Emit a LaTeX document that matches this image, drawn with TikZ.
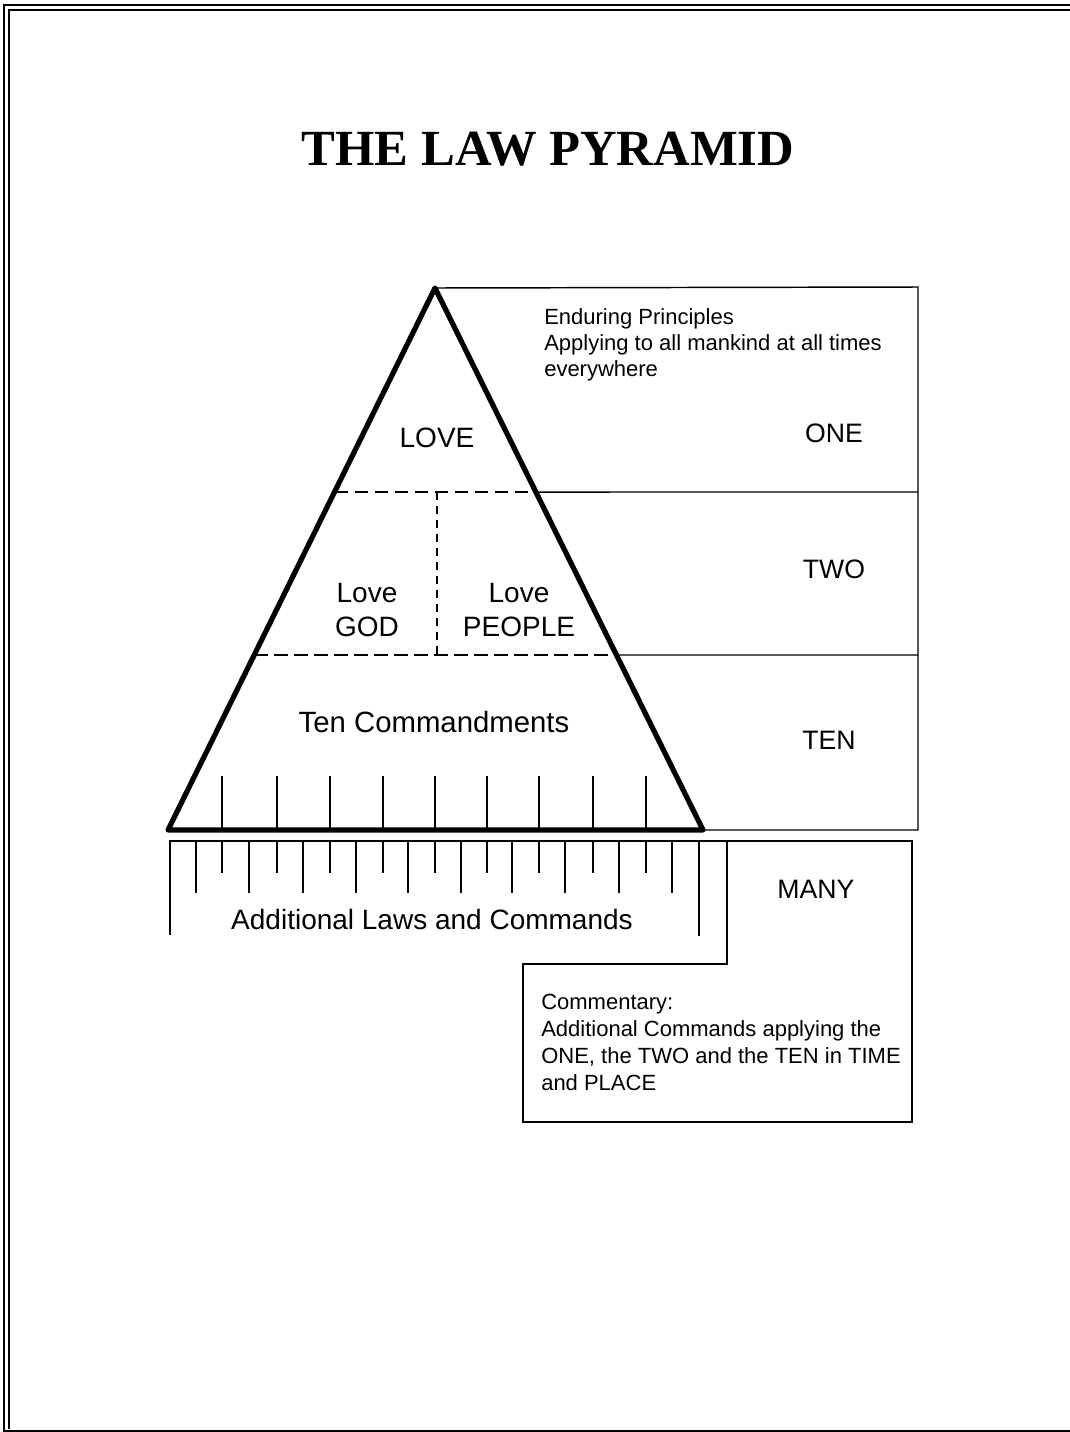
\documentclass[tikz,border=0pt]{standalone}
\usepackage{fontspec}
\setmainfont{Liberation Serif}
\newfontfamily\lawsans{Liberation Sans}
\usetikzlibrary{calc}

\begin{document}
\begin{tikzpicture}[x=0.75pt,y=-0.75pt,
    boxline/.style={draw,line width=1.1pt},
    wall/.style={draw,line width=3.9pt,line join=round,line cap=round},
    divider/.style={draw,line width=1.1pt,dash pattern=on 10pt off 5pt},
    rulertick/.style={draw,line width=1.1pt},
    biglbl/.style={font=\lawsans\fontsize{21}{25.5}\selectfont,align=center,inner sep=0pt},
    levellbl/.style={font=\lawsans\fontsize{20}{24}\selectfont,inner sep=0pt,anchor=base},
    notelbl/.style={font=\lawsans\fontsize{16.5}{19.5}\selectfont,align=left,inner sep=0pt,anchor=north west}]
    \useasboundingbox (0,0) rectangle (1070,1432);

    % frame
    \draw[line width=1.5pt] (1072,5) -- (4,5) -- (4,1431) -- (1072,1431);
    \draw[line width=1.2pt] (1072,10) -- (9,10) -- (9,1429);

    \node[font=\fontsize{38}{41}\selectfont\bfseries,anchor=base,inner sep=0pt] (title) at (548,165) {THE LAW PYRAMID};

    \coordinate (apex) at (435,288);
    \coordinate (baseL) at (168,830);
    \coordinate (baseR) at (703,830);
    \coordinate (oneL) at ($(apex)!0.3764!(baseL)$);
    \coordinate (oneR) at ($(apex)!0.3764!(baseR)$);
    \coordinate (twoL) at ($(apex)!0.6771!(baseL)$);
    \coordinate (twoR) at ($(apex)!0.6771!(baseR)$);
    \coordinate (midT) at (437,492);
    \coordinate (midB) at (437,655);
    \coordinate (boxTR) at (918,287);
    \coordinate (boxBR) at (918,830);

    % level boxes
    \draw[boxline] (apex) -- (boxTR) -- (boxBR) -- (baseR);
    \draw[boxline] (oneR) -- (918,492);
    \draw[boxline] (twoR) -- (918,655);

    % dashed divisions
    \draw[divider] (oneL) -- (oneR);
    \draw[divider] (twoL) -- (twoR);
    \draw[boxline,dash pattern=on 6pt off 4.5pt] (midT) -- (midB);

    % ticks inside the pyramid
    \foreach \x in {222,277,330,383,435,487,539,593,646}
    {
      \draw[rulertick] (\x,776) -- (\x,830);
    }

    \draw[wall] (apex) -- (baseR) -- (baseL) -- cycle;

    % lower ruler and commentary box
    \draw[boxline] (170,935) -- (170,841) -- (912,841) -- (912,1122) -- (523,1122) -- (523,964) -- (727,964) -- (727,841);
    \draw[boxline] (699,841) -- (699,936);
    \foreach \x in {222,277,330,383,435,487,539,593,646}
    {
      \draw[rulertick] (\x,841) -- (\x,873);
    }
    \foreach \x in {196,249,303,356,408,461,512,565,619,672}
    {
      \draw[rulertick] (\x,841) -- (\x,893);
    }

    % labels
    \node[biglbl,anchor=base] (love) at (437,447) {LOVE};
    \node[biglbl,anchor=north] (lovegod) at (367,583) {Love\\GOD};
    \node[biglbl,anchor=north] (lovepeople) at (519,583) {Love\\PEOPLE};
    \node[biglbl,anchor=base,font=\lawsans\fontsize{22}{26}\selectfont] (tencmd) at (434,732) {Ten Commandments};
    \node[biglbl,anchor=base] (addlaws) at (432,929) {Additional Laws and Commands};

    \node[levellbl] (one) at (834,442) {ONE};
    \node[levellbl] (two) at (834,578) {TWO};
    \node[levellbl] (ten) at (829,749) {TEN};
    \node[levellbl] (many) at (816,898) {MANY};

    \node[notelbl] (enduring) at (544,308) {Enduring Principles\\Applying to all mankind at all times\\everywhere};
    \node[notelbl,font=\lawsans\fontsize{16.5}{20.3}\selectfont] (commentary) at (541,994) {Commentary:\\Additional Commands applying the\\ONE, the TWO and the TEN in TIME\\and PLACE};
\end{tikzpicture}
\end{document}
